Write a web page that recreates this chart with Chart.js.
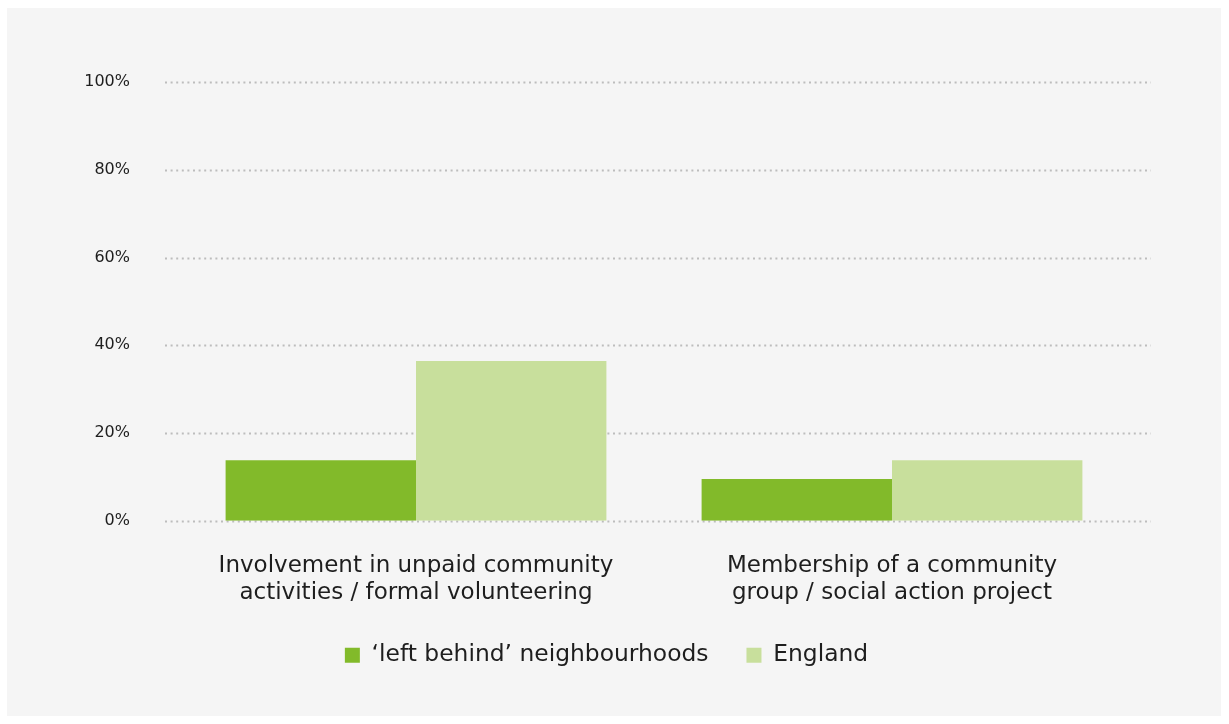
<!DOCTYPE html>
<html>
<head>
<meta charset="utf-8">
<script src="https://cdn.jsdelivr.net/npm/chart.js@4.4.1/dist/chart.umd.min.js"></script>
<style>
  html, body { margin: 0; padding: 0; background: #ffffff; }
  #panel { position: absolute; left: 7px; top: 8px; width: 1214px; height: 708px; background: #f5f5f5; }
  canvas { display: block; }
</style>
</head>
<body>
<div id="panel"><canvas id="chart" width="1214" height="708"></canvas></div>
<script>
// Share of residents taking part, by area type
const categories = [
  ["Involvement in unpaid community", "activities / formal volunteering"],
  ["Membership of a community", "group / social action project"]
];
const seriesNames = ["\u2018left behind\u2019 neighbourhoods", "England"];
const leftBehind = [13.8, 9.5];
const england = [36.4, 13.8];
const yTickValues = [0, 20, 40, 60, 80, 100];

const FONT = "'DejaVu Sans', sans-serif";
const TEXT = "#1e1e1e";

// Dotted horizontal guides, drawn a little wider than the bar area
const dottedGrid = {
  id: "dottedGrid",
  beforeDatasetsDraw(chart) {
    const { ctx, chartArea, scales } = chart;
    ctx.save();
    ctx.strokeStyle = "#bdbdbd";
    ctx.lineWidth = 2;
    ctx.setLineDash([2, 3.6]);
    yTickValues.forEach(v => {
      const y = Math.round(scales.y.getPixelForValue(v)) + 0.5;
      ctx.beginPath();
      ctx.moveTo(chartArea.left - 13, y);
      ctx.lineTo(chartArea.right + 21, y);
      ctx.stroke();
    });
    ctx.restore();
  }
};

new Chart(document.getElementById("chart"), {
  type: "bar",
  data: {
    labels: categories,
    datasets: [
      { label: seriesNames[0], data: leftBehind, backgroundColor: "#82ba2a", borderWidth: 0 },
      { label: seriesNames[1], data: england, backgroundColor: "#c8df9c", borderWidth: 0 }
    ]
  },
  options: {
    responsive: false,
    animation: false,
    layout: { padding: { top: 74, right: 15, bottom: 39, left: 0 } },
    datasets: { bar: { categoryPercentage: 0.8, barPercentage: 1.0 } },
    scales: {
      x: {
        afterFit(scale) { scale.height -= 33; },
        grid: { display: false, drawTicks: false },
        border: { display: false },
        ticks: {
          padding: 32,
          maxRotation: 0,
          color: TEXT,
          font: { family: FONT, size: 23, lineHeight: 1.17 }
        }
      },
      y: {
        min: 0,
        max: 100,
        afterFit(scale) { scale.width = 171; },
        grid: { display: false, drawTicks: false },
        border: { display: false },
        afterBuildTicks(scale) { scale.ticks = yTickValues.map(v => ({ value: v })); },
        ticks: {
          padding: 48,
          color: TEXT,
          font: { family: FONT, size: 16 },
          callback: v => v + "%"
        }
      },
      // empty right-hand margin beside the bars
      yRight: {
        position: "right",
        min: 0,
        max: 100,
        afterFit(scale) { scale.width = 76; },
        grid: { display: false, drawTicks: false },
        border: { display: false },
        ticks: { display: false }
      }
    },
    plugins: {
      legend: {
        position: "bottom",
        labels: {
          boxWidth: 15,
          boxHeight: 15,
          padding: 38,
          color: TEXT,
          font: { family: FONT, size: 23.4 }
        }
      },
      tooltip: { enabled: false }
    }
  },
  plugins: [dottedGrid]
});
</script>
</body>
</html>
